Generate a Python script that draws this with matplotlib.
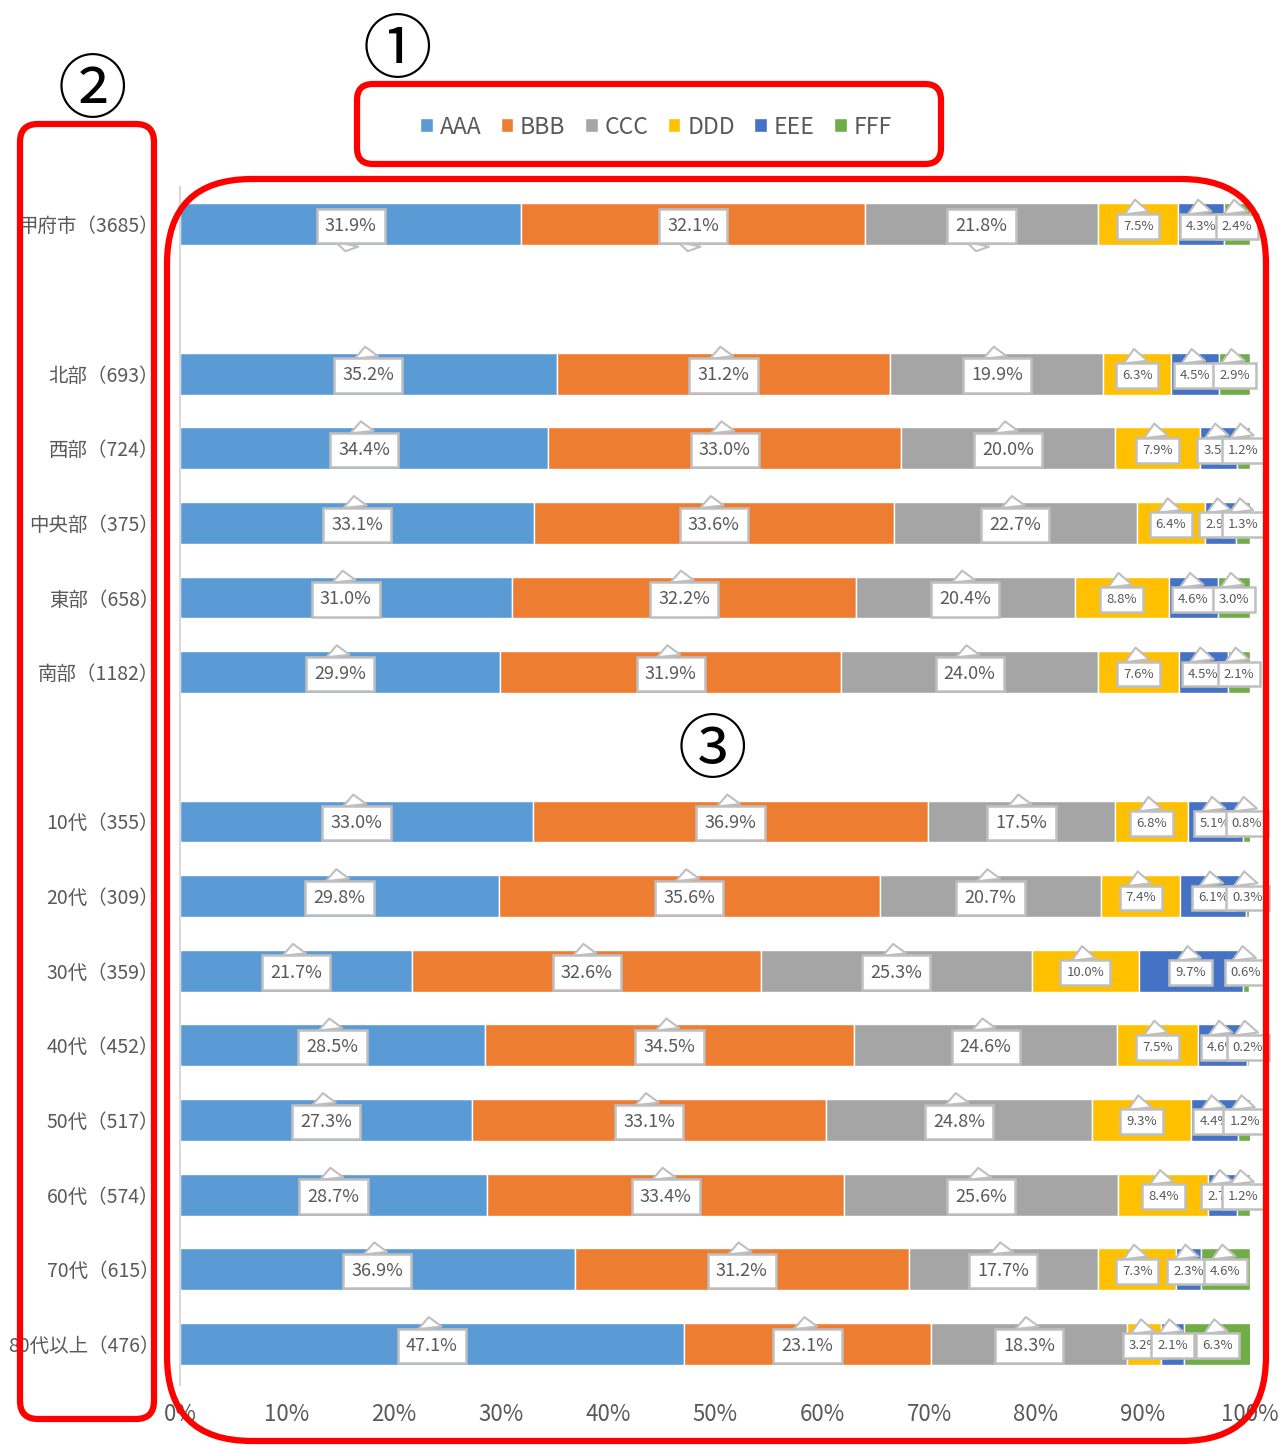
import matplotlib
matplotlib.use('Agg')
import matplotlib.pyplot as plt
from matplotlib.patches import FancyBboxPatch

plt.rcParams['font.family'] = ['Noto Sans CJK JP', 'DejaVu Sans']

# データ
series = ['AAA', 'BBB', 'CCC', 'DDD', 'EEE', 'FFF']
colors = ['#5B9BD5', '#ED7D31', '#A5A5A5', '#FFC000', '#4472C4', '#70AD47']
categories = ['甲府市（3685）', '', '北部（693）', '西部（724）', '中央部（375）', '東部（658）',
              '南部（1182）', '', '10代（355）', '20代（309）', '30代（359）', '40代（452）',
              '50代（517）', '60代（574）', '70代（615）', '80代以上（476）']
aaa = [31.9, None, 35.2, 34.4, 33.1, 31.0, 29.9, None, 33.0, 29.8, 21.7, 28.5, 27.3, 28.7, 36.9, 47.1]
bbb = [32.1, None, 31.2, 33.0, 33.6, 32.2, 31.9, None, 36.9, 35.6, 32.6, 34.5, 33.1, 33.4, 31.2, 23.1]
ccc = [21.8, None, 19.9, 20.0, 22.7, 20.4, 24.0, None, 17.5, 20.7, 25.3, 24.6, 24.8, 25.6, 17.7, 18.3]
ddd = [7.5, None, 6.3, 7.9, 6.4, 8.8, 7.6, None, 6.8, 7.4, 10.0, 7.5, 9.3, 8.4, 7.3, 3.2]
eee = [4.3, None, 4.5, 3.5, 2.9, 4.6, 4.5, None, 5.1, 6.1, 9.7, 4.6, 4.4, 2.7, 2.3, 2.1]
fff = [2.4, None, 2.9, 1.2, 1.3, 3.0, 2.1, None, 0.8, 0.3, 0.6, 0.2, 1.2, 1.2, 4.6, 6.3]
values = [aaa, bbb, ccc, ddd, eee, fff]
xticks = [0, 10, 20, 30, 40, 50, 60, 70, 80, 90, 100]

W, H = 1281, 1446
fig = plt.figure(figsize=(W / 100, H / 100), dpi=100)
ax = fig.add_axes([180 / W, 1 - 1385 / H, 1070 / W, (1385 - 187) / H])

txt = '#595959'
rows = list(range(len(categories)))
left = [0.0] * len(categories)
for s in range(len(series)):
    ys, ws, ls = [], [], []
    for r in rows:
        v = values[s][r]
        if v is None:
            continue
        ys.append(r)
        ws.append(v)
        ls.append(left[r])
    ax.barh(ys, ws, left=ls, height=0.56, color=colors[s], edgecolor='white',
            linewidth=1, label=series[s], zorder=2)
    # ラベル（吹き出し）
    for y, w, l in zip(ys, ws, ls):
        cx = l + w / 2
        big = s < 3
        fs = 13 if big else 9.5
        tw = 1.3 if big else 1.8
        down = (y == 0 and big)
        off = 0.36 if big else 0.33
        tip = (cx - 0.5, y + off) if down else (cx - 0.3, y - off)
        ax.annotate(f'{w:.1f}%', xy=tip, xytext=(cx, y + 0.025), textcoords='data',
                    ha='center', va='center', fontsize=fs, color=txt,
                    annotation_clip=False, zorder=5,
                    bbox=dict(boxstyle='square,pad=0.45', fc='white', ec='#BFBFBF', lw=1.8),
                    arrowprops=dict(arrowstyle=f'wedge,tail_width={tw},shrink_factor=0.5',
                                    fc='white', ec='#BFBFBF', lw=1.5, shrinkA=0, shrinkB=0))
    for r in rows:
        if values[s][r] is not None:
            left[r] += values[s][r]

ax.set_xlim(0, 100)
ax.set_ylim(15.55, -0.5)
ax.set_yticks(rows)
ax.set_yticklabels(categories, fontsize=14, color=txt)
ax.set_xticks(xticks)
ax.set_xticklabels([f'{t}%' for t in xticks], fontsize=16, color=txt)
ax.tick_params(axis='both', length=0)
ax.tick_params(axis='y', pad=15)
ax.tick_params(axis='x', pad=13)
for sp in ['top', 'right', 'bottom']:
    ax.spines[sp].set_visible(False)
ax.spines['left'].set_color('#D9D9D9')
ax.spines['left'].set_linewidth(1.5)

fig.legend(loc='center', bbox_to_anchor=(656 / W, 1 - 127 / H), ncol=6, frameon=False,
           fontsize=16.5, labelcolor=txt, handlelength=0.55, handleheight=0.55,
           handletextpad=0.3, columnspacing=0.85)

# 注釈（赤枠と丸数字）
ov = fig.add_axes([0, 0, 1, 1], zorder=10)
ov.set_xlim(0, W)
ov.set_ylim(H, 0)
ov.axis('off')
ov.patch.set_alpha(0)
red = '#FF0000'
ov.add_patch(FancyBboxPatch((357, 84), 584, 80, boxstyle='round,pad=0,rounding_size=16',
                            fc='none', ec=red, lw=4.5))
ov.add_patch(FancyBboxPatch((20, 124), 134, 1295, boxstyle='round,pad=0,rounding_size=18',
                            fc='none', ec=red, lw=4.5))
ov.add_patch(FancyBboxPatch((167, 179), 1099, 1262, boxstyle='round,pad=0,rounding_size=85',
                            fc='none', ec=red, lw=4.5))
for t, x, y in [('①', 397, 52), ('②', 92, 92), ('③', 712, 752)]:
    ov.text(x, y, t, fontsize=50, ha='center', va='center', color='black')

fig.savefig('out.png', dpi=100)
